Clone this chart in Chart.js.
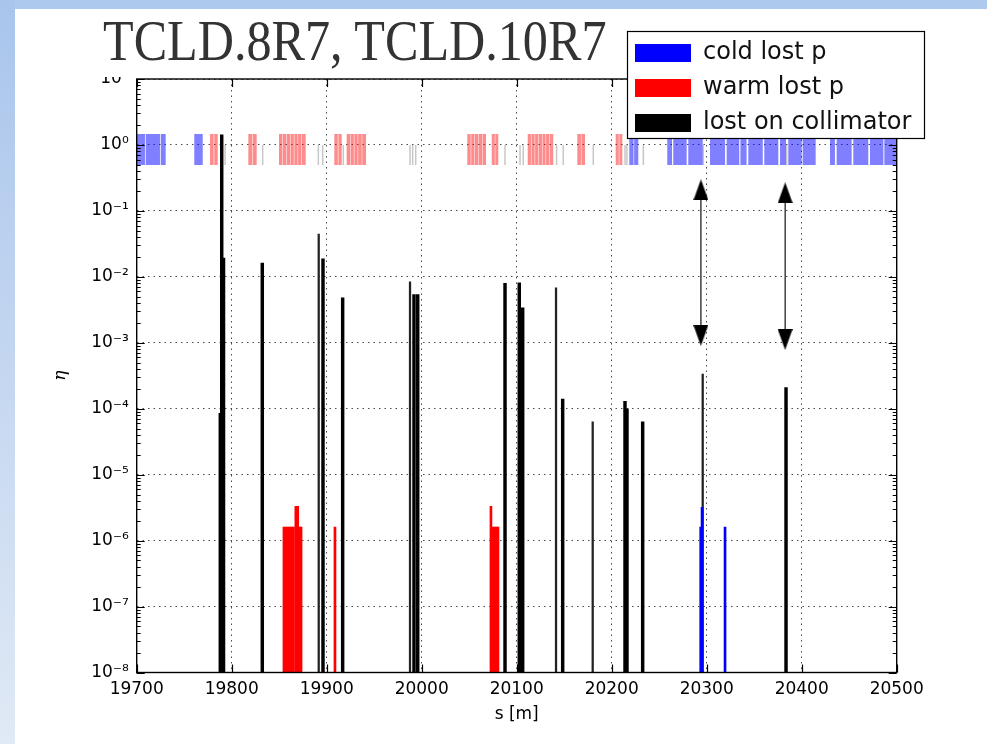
<!DOCTYPE html>
<html><head><meta charset="utf-8">
<script src="https://cdn.jsdelivr.net/npm/chart.js@4.4.0/dist/chart.umd.min.js"></script>
<style>
html,body{margin:0;padding:0;background:#fff;width:987px;height:744px;overflow:hidden;}
#topbar{position:absolute;left:0;top:0;width:987px;height:9px;background:#aec9ee;}
#leftbar{position:absolute;left:0;top:0;width:15px;height:744px;background:linear-gradient(#a9c5ec,#e0e9f5);}
#wrap{position:absolute;left:0;top:0;width:987px;height:744px;}
#cover{position:absolute;left:60px;top:12px;width:560px;height:65px;background:#fff;}
#title{position:absolute;left:103px;top:12px;font-family:"Liberation Serif",serif;font-size:57px;line-height:1;color:#333;white-space:nowrap;transform:scaleX(0.88);transform-origin:0 0;}
</style></head>
<body>
<div id="topbar"></div><div id="leftbar"></div>
<div id="wrap"><canvas id="c" width="987" height="744"></canvas></div>
<div id="cover"></div>
<div id="title">TCLD.8R7, TCLD.10R7</div>
<script>
// ---------- axes ----------
const S_MIN = 19700, S_MAX = 20500;
const ETA_MIN = 1e-8, ETA_MAX = 10;
const xTickValues = [19700, 19800, 19900, 20000, 20100, 20200, 20300, 20400, 20500];
const yTickExponents = [-8, -7, -6, -5, -4, -3, -2, -1, 0, 1];

// ---------- loss spikes ----------
const collimatorLossS   = [19788.0, 19789.5, 19791.4, 19832.2, 19896.1, 19916.8, 19991.9, 19995.8, 20087.7, 20102.7, 20106.3, 20148.4, 20214.0, 20216.1, 20232.6, 20383.5];
const collimatorLossEta = [8.5e-5, 1.42, 0.0193, 0.0162, 0.0187, 0.0048, 0.0054, 0.0054, 0.0080, 0.0081, 0.0034, 1.4e-4, 1.3e-4, 1.0e-4, 6.3e-5, 2.1e-4];
const collimatorThinS   = [19891.6, 19987.7, 20141.4, 20180.0, 20295.8];
const collimatorThinEta = [0.0445, 0.0084, 0.0068, 6.3e-5, 3.35e-4];
const warmLossS   = [19855, 19857, 19859, 19861, 19863, 19865, 19867.5, 19869.5, 19871.5, 19873, 19908.7, 20072.9, 20074.8, 20076.8, 20078.8, 20080.3];
const warmLossEta = [1.6e-6, 1.6e-6, 1.6e-6, 1.6e-6, 1.6e-6, 1.6e-6, 3.3e-6, 3.3e-6, 1.6e-6, 1.6e-6, 1.6e-6, 3.3e-6, 1.6e-6, 1.6e-6, 1.6e-6, 1.6e-6];
const coldLossS   = [20293.7, 20295.1, 20319.3];
const coldLossEta = [1.6e-6, 3.2e-6, 1.6e-6];

// ---------- machine layout strip (element start, end in m) ----------
const STRIP_MAGNET_ETA = 0.855;
const STRIP_COLLIMATOR_ETA = 0.705;
const coldElements = [[19700,19708.7],[19709.5,19724.5],[19725.3,19730.5],[19760.6,19769.5],
  [20218.5,20223],[20223.6,20228],
  [20258.5,20263.5],[20264.8,20278.9],[20280.6,20295.8],[20303.5,20319.3],[20321,20334.3],[20335.5,20342],
  [20343.8,20359],[20360.6,20375.4],[20377.2,20383.5],[20385.9,20400],[20401,20414.7],
  [20429.8,20435],[20436.8,20452.6],[20454.3,20470.1],[20471.9,20486],[20487,20500]];
const warmElements = [[19777.2,19781],[19781.6,19785.3],
  [19817.5,19821.7],[19822.3,19826.3],
  [19849.8,19853.4],[19853.9,19857.4],[19857.9,19861.4],[19861.9,19865.4],[19865.9,19869.4],[19869.9,19873.4],[19873.9,19877.9],
  [19908,19911.7],[19912.3,19915.8],
  [19921,19924.6],[19925.1,19928.6],[19929.1,19932.6],[19933.1,19936.9],[19937.4,19941.4],
  [20048,20051.6],[20052.1,20055.6],[20056.1,20059.6],[20060.1,20063.6],[20064.1,20067.7],
  [20073.7,20077],[20077.5,20080.6],
  [20111.6,20115],[20115.5,20118.9],[20119.4,20122.7],[20123.2,20126.6],[20127.1,20130.4],[20130.9,20134.3],[20134.8,20138.5],
  [20163.8,20167.6],[20168.1,20171.9],
  [20204.2,20207.5],[20208,20211.2]];
const collimatorCentres = [19793, 19832.6, 19891.2, 19895.8, 19917.5, 19987.7, 19990.5, 19993.7, 20087.7, 20103.5, 20106.9, 20142, 20149, 20180.6, 20214, 20216, 20233.3, 20296.4, 20384.2];
const COLLIMATOR_LENGTH = 1.6;

// ---------- arrows ----------
const arrowS = [20293.9, 20382.6];
const arrowHeadTopEta = [0.209, 0.188];
const arrowHeadBottomEta = [1.29e-3, 1.12e-3];

const legendLabels = ['cold lost p', 'warm lost p', 'lost on collimator'];

// ---------- build ----------
const SUP = {'-':'\u207B','0':'\u2070','1':'\u00B9','2':'\u00B2','3':'\u00B3','4':'\u2074','5':'\u2075','6':'\u2076','7':'\u2077','8':'\u2078','9':'\u2079'};
const sup = s => String(s).split('').map(c => SUP[c]).join('');
const spikes = (S, E) => S.map((s, i) => ({x: s, y: E[i]}));
const strip = (els, eta) => els.map(([a, b]) => ({x: [a, b], y: eta}));

function headCanvas() {
  const c = document.createElement('canvas');
  c.width = 15; c.height = 21;
  const g = c.getContext('2d');
  g.fillStyle = '#000';
  g.beginPath(); g.moveTo(7.5, 0); g.lineTo(15, 21); g.lineTo(0, 21); g.closePath(); g.fill();
  return c;
}
const head = headCanvas();

const spikeCommon = {type: 'bar', grouped: false, borderWidth: 0, order: 5};
const stripCommon = {type: 'bar', indexAxis: 'y', grouped: false, borderWidth: 0, order: 10, inflateAmount: 0, label: ''};

const datasets = [
  Object.assign({}, spikeCommon, {label: 'cold lost p', data: spikes(coldLossS, coldLossEta), backgroundColor: '#0000ff', barThickness: 2}),
  Object.assign({}, spikeCommon, {label: 'warm lost p', data: spikes(warmLossS, warmLossEta), backgroundColor: '#ff0000', barThickness: 2}),
  Object.assign({}, spikeCommon, {label: 'lost on collimator', data: spikes(collimatorLossS, collimatorLossEta), backgroundColor: '#000000', barThickness: 2.8}),
  Object.assign({}, spikeCommon, {label: '', data: spikes(collimatorThinS, collimatorThinEta), backgroundColor: '#222222', barThickness: 1.6}),
  Object.assign({}, stripCommon, {data: strip(coldElements, STRIP_MAGNET_ETA), backgroundColor: 'rgba(0,0,255,0.5)', barThickness: 31}),
  Object.assign({}, stripCommon, {data: strip(warmElements, STRIP_MAGNET_ETA), backgroundColor: 'rgba(255,0,0,0.45)', barThickness: 31}),
  Object.assign({}, stripCommon, {data: strip(collimatorCentres.map(c => [c - COLLIMATOR_LENGTH / 2, c + COLLIMATOR_LENGTH / 2]), STRIP_COLLIMATOR_ETA), backgroundColor: 'rgba(0,0,0,0.22)', barThickness: 20}),
];
arrowS.forEach((s, i) => {
  datasets.push({type: 'line', label: '', order: 1,
    data: [{x: s, y: arrowHeadTopEta[i]}, {x: s, y: arrowHeadBottomEta[i]}],
    borderColor: '#222', borderWidth: 1.3, pointRadius: 0, fill: false});
});
datasets.push({type: 'line', label: '', order: 0, showLine: false,
  data: arrowS.flatMap((s, i) => [{x: s, y: arrowHeadTopEta[i]}, {x: s, y: arrowHeadBottomEta[i]}]),
  pointStyle: head, pointRadius: 8, rotation: arrowS.flatMap(() => [0, 180])});

const tickFont = {family: 'DejaVu Sans', size: 17};

const framePlugin = {
  id: 'frame',
  afterLayout(chart) {
    const lg = chart.legend;
    lg.left = 624; lg.top = 30;
    lg.right = lg.left + lg.width; lg.bottom = lg.top + lg.height;
  },
  afterDatasetsDraw(chart) {
    const {ctx, chartArea: a, scales} = chart;
    ctx.save();
    ctx.strokeStyle = '#000'; ctx.lineWidth = 1.2;
    ctx.beginPath();
    yTickExponents.forEach(e => {
      for (let m = 1; m <= 9; m++) {
        const v = m * Math.pow(10, e);
        if (v < ETA_MIN || v > ETA_MAX) continue;
        const py = Math.round(scales.y.getPixelForValue(v)) + 0.5;
        const len = m === 1 ? 8 : 4;
        ctx.moveTo(a.left, py); ctx.lineTo(a.left + len, py);
        ctx.moveTo(a.right, py); ctx.lineTo(a.right - len, py);
      }
    });
    xTickValues.forEach(v => {
      const px = Math.round(scales.x.getPixelForValue(v)) + 0.5;
      ctx.moveTo(px, a.bottom); ctx.lineTo(px, a.bottom - 8);
      ctx.moveTo(px, a.top); ctx.lineTo(px, a.top + 8);
    });
    ctx.stroke();
    ctx.lineWidth = 1.4;
    ctx.strokeRect(a.left, a.top, a.right - a.left, a.bottom - a.top);
    ctx.fillStyle = '#fff';
    ctx.fillRect(627.5, 31.5, 297, 107);
    ctx.lineWidth = 1.2;
    ctx.strokeRect(627.5, 31.5, 297, 107);
    ctx.restore();
    chart.legend.draw();
  }
};

new Chart(document.getElementById('c'), {
  type: 'bar',
  data: {datasets},
  options: {
    responsive: false, animation: false, devicePixelRatio: 1,
    layout: {padding: {left: 46, right: 90.3, top: 79, bottom: 15}},
    plugins: {
      legend: {position: 'chartArea', align: 'start',
        labels: {filter: it => legendLabels.includes(it.text), boxWidth: 56, boxHeight: 18, padding: 11, color: '#111',
          font: {family: 'DejaVu Sans', size: 24}}},
      tooltip: {enabled: false}, title: {display: false}
    },
    scales: {
      x: {axis: 'x', type: 'linear', position: 'bottom', min: S_MIN, max: S_MAX, offset: false, stacked: false,
        afterBuildTicks: sc => { sc.ticks = xTickValues.map(v => ({value: v})); },
        ticks: {autoSkip: false, maxRotation: 0, padding: 7, color: '#000', font: tickFont, callback: v => String(v)},
        grid: {color: 'rgba(0,0,0,0.7)', lineWidth: 1, drawTicks: false, offset: false},
        border: {display: false, dash: [1.5, 4]},
        title: {display: true, text: 's [m]', color: '#000', font: tickFont, padding: {top: 2, bottom: 4}},
        afterFit: sc => { sc.height = 56.5; }},
      y: {axis: 'y', type: 'logarithmic', position: 'left', min: ETA_MIN, max: ETA_MAX, stacked: false, offset: false,
        afterBuildTicks: sc => { sc.ticks = yTickExponents.map(e => ({value: Math.pow(10, e)})); },
        ticks: {autoSkip: false, padding: 8, color: '#000', font: tickFont,
          callback: v => '10' + sup(Math.round(Math.log10(v)))},
        grid: {color: 'rgba(0,0,0,0.7)', lineWidth: 1, drawTicks: false, offset: false},
        border: {display: false, dash: [1.5, 4]},
        title: {display: true, text: '\u03B7', color: '#000', font: {family: 'DejaVu Serif', style: 'italic', size: 17}, padding: 4},
        afterFit: sc => { sc.width = 90.7; }}
    }
  },
  plugins: [framePlugin]
});
</script>
</body></html>
